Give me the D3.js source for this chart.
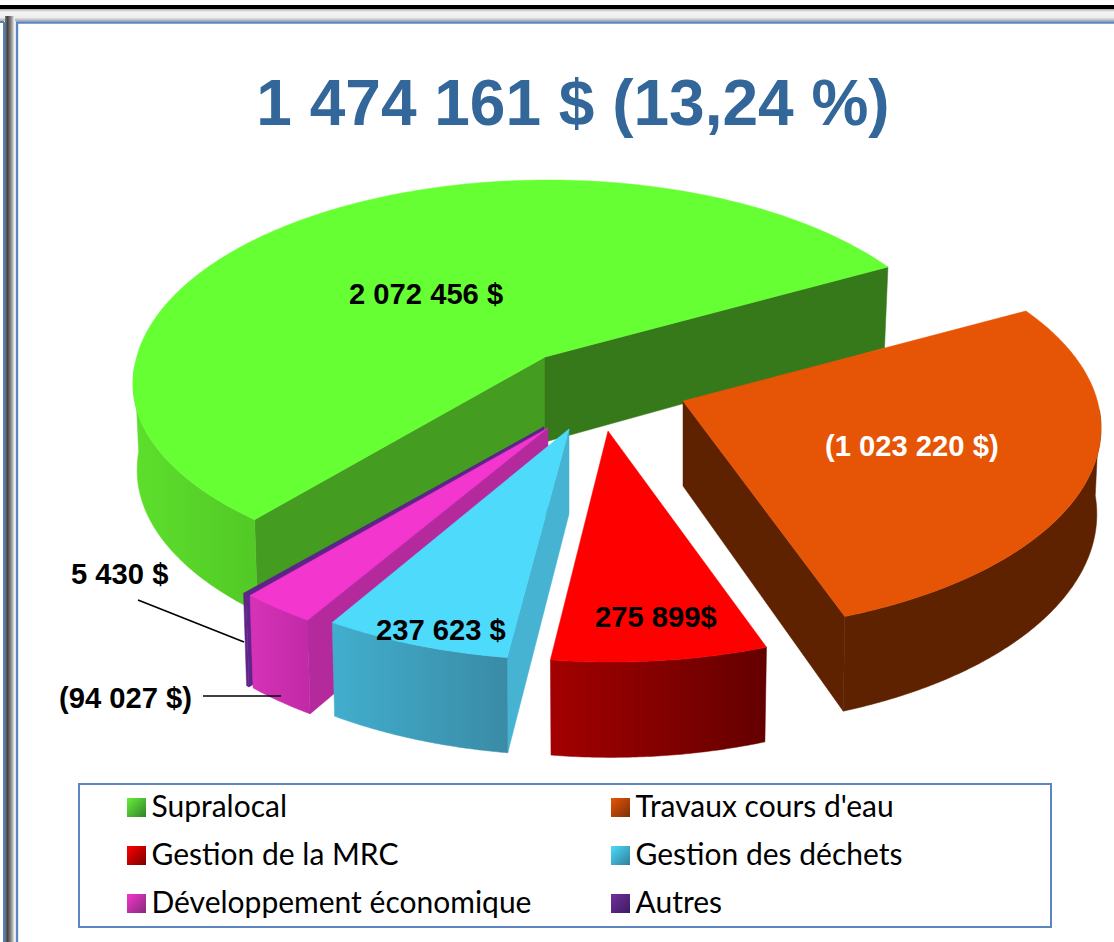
<!DOCTYPE html>
<html><head><meta charset="utf-8">
<style>html,body{margin:0;padding:0;background:#fff}svg{display:block}</style>
<script src="https://cdn.jsdelivr.net/npm/d3@7/dist/d3.min.js"></script></head>
<body><svg id="c" width="1114" height="942"></svg>
<script>
// Data
const titleText = "1 474 161 $ (13,24 %)";
const categories = ["Supralocal","Travaux cours d'eau","Gestion de la MRC","Gestion des déchets","Développement économique","Autres"];
const values = [2072456,1023220,275899,237623,94027,5430];
const valueLabels = ["2 072 456 $","(1 023 220 $)","275 899$","237 623 $","(94 027 $)","5 430 $"];
// Styles
const topColors = ["#66ff33","#e65505","#ff0000","#4ddafb","#f336ce","#5c2289"];
const rimColors = [["#5ddf2c","#52c926"],["#5e2200","#5e2200"],["#a30000","#640000"],["#41aecd","#3a8ba6"],["#d632b8","#c02aa6"],["#5f2389","#5f2389"]];
const wallColors = [["#449c20","#36791a"],["#5e2200","#5e2200"],["#a30000","#a30000"],["#46b3d3","#46b3d3"],["#b42a9d","#b42a9d"],["#5f2389","#5f2389"]];
const legendSwatch = [["#66f03a","#33802a"],["#e65505","#7a2f08"],["#ff0000","#7a0000"],["#4ddafb","#2f8099"],["#f336ce","#852a78"],["#7030a0","#3f1a5f"]];
const labelColors = ["#000","#fff","#000","#000","#000","#000"];
// Layout
const apexes = [[545,357],[683,401],[608,431],[569,429],[548,428],[544,427]];
const labelPos = [[349,304],[825,456],[595,627],[376,640],[59,708],[71,584]];
const pieDeg  = [55,154.33,181.11,204.18,213.31,213.84,415];
const viewDeg = [55,157.5,188.4,215.3,226.5,227,415];
const startNudge = [-2,0,0.5,0.6,0.6,0];
const frontSquash = [0.94,1,1,1,1,1];
const ellipse = {cx:3,cy:27,rx:415,ry:204};
const depth = {base:85,slope:0.045,shrink:0.99};

const svg = d3.select("#c");
const defs = svg.append("defs");
const rad = Math.PI/180;

function grad(id,c,x1,y1,x2,y2){
  const g = defs.append("linearGradient").attr("id",id)
    .attr("x1",x1||0).attr("y1",y1||0).attr("x2",x2===undefined?1:x2).attr("y2",y2||0);
  g.append("stop").attr("offset",0).attr("stop-color",c[0]);
  g.append("stop").attr("offset",1).attr("stop-color",c[1]);
  return `url(#${id})`;
}

// Page frame
const frameV = defs.append("linearGradient").attr("id","frameV");
[[0,"#777"],[.25,"#444"],[.6,"#888"],[1,"#fff"]].forEach(s=>frameV.append("stop").attr("offset",s[0]).attr("stop-color",s[1]));
const frameH = defs.append("linearGradient").attr("id","frameH").attr("x2",0).attr("y2",1);
[[0,"#aaa"],[.25,"#f4f4f4"],[.7,"#eee"],[1,"#aaa"]].forEach(s=>frameH.append("stop").attr("offset",s[0]).attr("stop-color",s[1]));
svg.append("rect").attr("x",0).attr("y",9).attr("width",1114).attr("height",12).attr("fill","url(#frameH)");
svg.append("rect").attr("x",5).attr("y",16).attr("width",10).attr("height",926).attr("fill","url(#frameV)");
svg.append("rect").attr("x",0).attr("y",5).attr("width",1114).attr("height",4).attr("fill","#000");
svg.append("rect").attr("x",0).attr("y",21).attr("width",4).attr("height",2).attr("fill","#4f81bd");
svg.append("rect").attr("x",3).attr("y",22).attr("width",2).attr("height",920).attr("fill","#4f81bd");
svg.append("path").attr("d","M17 942V22.5H1114").attr("fill","none").attr("stroke","#5b86c4").attr("stroke-width",2.4);

// Title
svg.append("text").attr("x",573).attr("y",125).attr("text-anchor","middle")
  .attr("font-family","'Liberation Sans',Arial,sans-serif").attr("font-weight","bold").attr("font-size",64)
  .attr("fill","#336699").text(titleText);

// Pie angles
const sum = d3.sum(values);
const startDeg = 55 - values[0]/sum*360;
const pie = d3.pie().sort(null).startAngle(startDeg*rad).endAngle((startDeg+360)*rad);
const arcs = pie(values);
const warp = d3.scaleLinear().domain(pieDeg).range(viewDeg);
const norm = a => { let d=a; while(d<55-1e-6) d+=360; while(d>=415-1e-6) d-=360; return d; };
const ex = d3.scaleLinear().domain([-1,1]).range([ellipse.cx-ellipse.rx,ellipse.cx+ellipse.rx]);
const ey = d3.scaleLinear().domain([-1,1]).range([ellipse.cy+ellipse.ry,ellipse.cy-ellipse.ry]);
const rimTop = (i,phi)=>{
  const c = Math.cos(phi*rad);
  return [apexes[i][0]+ex(Math.sin(phi*rad)), apexes[i][1]+ey(c<0 ? c*frontSquash[i] : c)];
};
const lower = (i,p)=>{ const dx=p[0]-apexes[i][0], dy=p[1]-apexes[i][1];
  return [apexes[i][0]+dx*depth.shrink, p[1]+depth.base+dy*depth.slope]; };
const line = d3.line();

const paintOrder = [0,5,4,3,1,2];
const layer = svg.append("g");
paintOrder.forEach(i=>{
  const a = arcs[i];
  const s = norm(a.startAngle/rad);
  const phi0 = warp(s)+startNudge[i], phi1 = warp(s+(a.endAngle-a.startAngle)/rad);
  const g = layer.append("g");
  const apex = apexes[i], apexB = lower(i,apex);
  const p0 = rimTop(i,phi0), p1 = rimTop(i,phi1);
  const face = (d,fill)=>g.append("path").attr("d",d).attr("fill",fill)
    .attr("stroke",fill).attr("stroke-width",0.5).attr("stroke-linejoin","round");
  // radial walls that face the viewer
  if(p0[0]<apex[0]) face(line([apex,p0,lower(i,p0),apexB])+"Z", i===0?wallColors[i][0]:wallColors[i][1]);
  if(p1[0]>apex[0]) face(line([apex,p1,lower(i,p1),apexB])+"Z", i===0?wallColors[i][1]:wallColors[i][0]);
  // outer rim, front half only
  const r0 = Math.max(phi0,85), r1 = Math.min(phi1,275);
  if(r1>r0){
    const ph = d3.range(r0,r1,0.5).concat([r1]);
    const t = ph.map(f=>rimTop(i,f));
    face(line(t.concat(t.slice().reverse().map(p=>lower(i,p))))+"Z", grad("rim"+i,rimColors[i]));
  }
  // top face
  const ph = d3.range(phi0,phi1,0.5).concat([phi1]);
  face(line([apex].concat(ph.map(f=>rimTop(i,f))))+"Z", topColors[i]);
});

// Leader lines
svg.append("line").attr("x1",138).attr("y1",600).attr("x2",244).attr("y2",642).attr("stroke","#000").attr("stroke-width",1.6);
svg.append("line").attr("x1",203).attr("y1",696).attr("x2",281).attr("y2",696).attr("stroke","#000").attr("stroke-width",1.6);

// Value labels
svg.append("g").selectAll("text").data(valueLabels).join("text")
  .attr("x",(d,i)=>labelPos[i][0]).attr("y",(d,i)=>labelPos[i][1])
  .attr("font-family","'Liberation Sans',Arial,sans-serif").attr("font-weight","bold").attr("font-size",29.2)
  .attr("fill",(d,i)=>labelColors[i]).text(d=>d);

// Legend
svg.append("rect").attr("x",79).attr("y",784).attr("width",972).attr("height",143)
  .attr("fill","#fff").attr("stroke","#5b86c0").attr("stroke-width",2);
const legCol = d3.scaleOrdinal().domain([0,1]).range([127,611]);
const legRow = d3.scalePoint().domain([0,1,2]).range([798,894]);
const leg = svg.append("g").selectAll("g").data(categories).join("g")
  .attr("transform",(d,i)=>`translate(${legCol(i%2)},${legRow(Math.floor(i/2))})`);
leg.append("rect").attr("width",19).attr("height",19)
  .attr("fill",(d,i)=>grad("sw"+i,legendSwatch[i],0,0,1,1));
leg.append("text").attr("x",24.5).attr("y",19)
  .attr("font-family","Lato,Carlito,sans-serif").attr("font-size",30).attr("fill","#000").text(d=>d);
</script></body></html>
